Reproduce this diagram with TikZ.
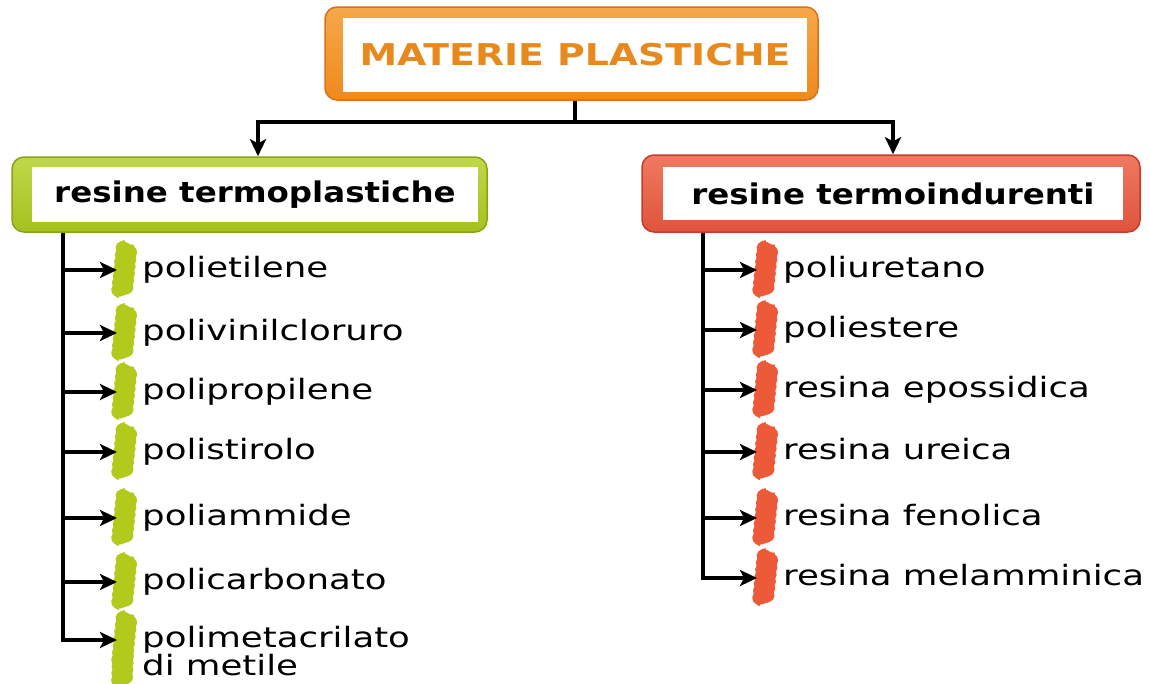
\documentclass[tikz,border=0pt]{standalone}
\usepackage{fontspec}
\usetikzlibrary{arrows.meta,decorations.pathmorphing}
\newfontfamily\itemfont[FakeStretch=1.27]{DejaVu Sans}
\newfontfamily\headfont[FakeStretch=1.14]{DejaVu Sans}
\newfontfamily\titlefont[FakeStretch=1.26]{DejaVu Sans}
\definecolor{orangeC}{HTML}{EE8A1C}
\definecolor{orangeL}{HTML}{F6A84A}
\definecolor{orangeD}{HTML}{D9701A}
\definecolor{greenC}{HTML}{A4C21E}
\definecolor{greenL}{HTML}{BFD84A}
\definecolor{greenD}{HTML}{88A416}
\definecolor{redC}{HTML}{E0533C}
\definecolor{redL}{HTML}{EE7A60}
\definecolor{redD}{HTML}{C43D2A}
\definecolor{sqgreen}{HTML}{B2CA1C}
\definecolor{sqred}{HTML}{EC5A3A}
\definecolor{titletext}{HTML}{E8891E}
\tikzset{
  outerbox/.style={rounded corners=12pt, line width=1.5pt, inner sep=0pt},
  innerbox/.style={fill=white, inner sep=0pt},
  itemtext/.style={anchor=base west, inner sep=0pt, font=\itemfont\fontsize{28}{28}\selectfont},
  headtext/.style={font=\headfont\bfseries\fontsize{28.5}{28.5}\selectfont},
  conn/.style={line width=4pt, black},
  arr/.style={conn, -{Stealth[length=17pt,width=16pt,inset=4pt]}},
  squig/.style={decorate, decoration={zigzag, segment length=7pt, amplitude=4pt}, line width=14pt, line join=round},
}
\begin{document}
\begin{tikzpicture}[x=1pt,y=-1pt]
\useasboundingbox (0,0) rectangle (1150,683);
% top box
\node[outerbox, draw=orangeD, top color=orangeL, bottom color=orangeC, minimum width=493pt, minimum height=93pt] (top) at (571.5,53.5) {};
\node[innerbox, minimum width=464pt, minimum height=74pt, text=titletext,
  font=\titlefont\bfseries\fontsize{30}{30}\selectfont] (toptext) at (575,55) {MATERIE PLASTICHE};
% left box
\node[outerbox, draw=greenD, top color=greenL, bottom color=greenC, minimum width=475pt, minimum height=75pt] (lbox) at (249.5,194.5) {};
\node[innerbox, headtext, minimum width=446pt, minimum height=55pt] (ltext) at (255,194.5) {resine termoplastiche};
% right box
\node[outerbox, draw=redD, top color=redL, bottom color=redC, minimum width=498pt, minimum height=77pt] (rbox) at (891,193.5) {};
\node[innerbox, headtext, minimum width=460pt, minimum height=53pt] (rtext) at (893,193.5) {resine termoindurenti};
% top connectors
\coordinate (j) at (575,122);
\coordinate (jl) at (258,122);
\coordinate (jr) at (893,122);
\draw[conn] (top.south -| j) -- (j);
\draw[conn] ([xshift=-2pt]jl) -- ([xshift=2pt]jr);
\draw[arr] (jl) -- (jl |- lbox.north);
\draw[arr] (jr) -- (jr |- rbox.north);
% left items
\foreach \i/\y/\t in {1/270/polietilene,2/333/polivinilcloruro,3/392/polipropilene,4/452/polistirolo,5/518/poliammide,6/582/policarbonato,7/640/polimetacrilato}{
  \coordinate (tl\i) at (63,\y);
  \coordinate (sl\i) at (117,\y);
  \draw[squig, sqgreen] (122,\y+22) -- (127,\y-26);
  \node[itemtext] (il\i) at (142,\y+7) {\t};
}
\node[itemtext] (il8) at (142,675) {di metile};
\draw[squig, sqgreen] (122,682) -- (123,654);
\draw[conn] (lbox.south -| tl1) -- ([yshift=2pt]tl7);
\foreach \i in {1,...,7}{\draw[arr] ([xshift=-2pt]tl\i) -- (sl\i);}
% right items
\foreach \i/\y/\t in {1/270/poliuretano,2/330/poliestere,3/390/resina epossidica,4/452/resina ureica,5/518/resina fenolica,6/578/resina melamminica}{
  \coordinate (tr\i) at (703,\y);
  \coordinate (sr\i) at (757,\y);
  \draw[squig, sqred] (763,\y+22) -- (768,\y-26);
  \node[itemtext] (ir\i) at (783,\y+7) {\t};
}
\draw[conn] (rbox.south -| tr1) -- ([yshift=2pt]tr6);
\foreach \i in {1,...,6}{\draw[arr] ([xshift=-2pt]tr\i) -- (sr\i);}
\end{tikzpicture}
\end{document}
